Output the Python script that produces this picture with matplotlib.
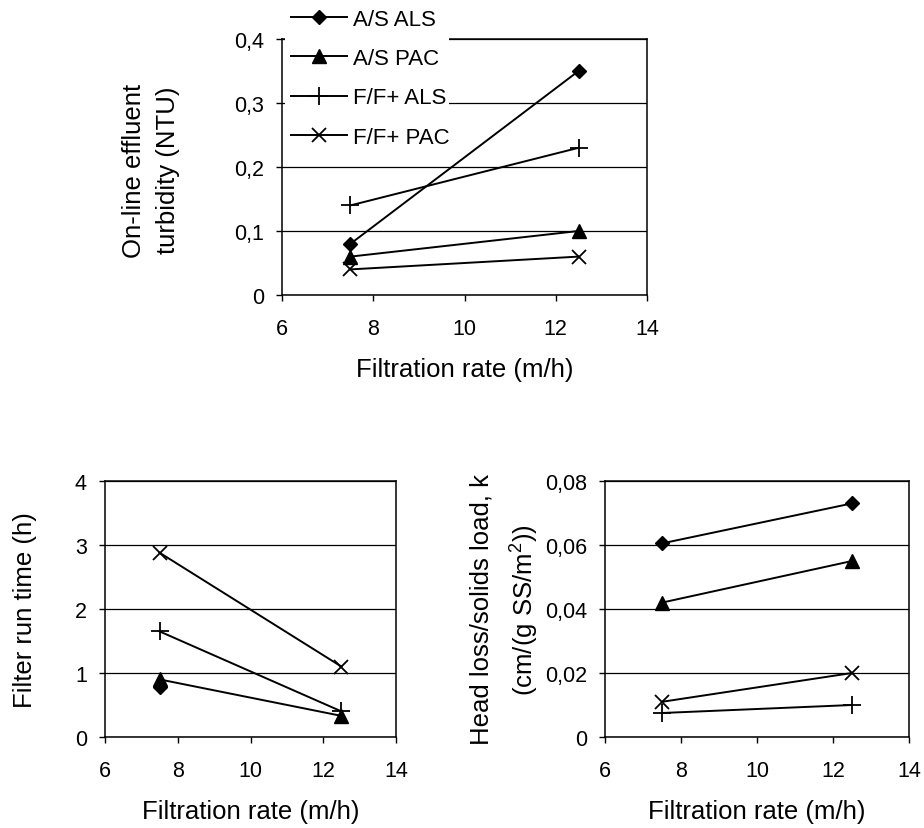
import matplotlib
matplotlib.use("Agg")
import matplotlib.pyplot as plt
from matplotlib.patches import Rectangle
from matplotlib.ticker import FuncFormatter
import numpy as np

plt.rcParams['font.family'] = ['Liberation Sans', 'DejaVu Sans']
plt.rcParams['mathtext.fontset'] = 'custom'
plt.rcParams['mathtext.rm'] = 'Liberation Sans'

rates = [7.5, 12.5]
series = ["A/S ALS", "A/S PAC", "F/F+ ALS", "F/F+ PAC"]

turbidity = {
    "A/S ALS": [0.08, 0.35],
    "A/S PAC": [0.06, 0.10],
    "F/F+ ALS": [0.14, 0.23],
    "F/F+ PAC": [0.04, 0.06],
}
run_time = {
    "A/S ALS": [0.78, np.nan],
    "A/S PAC": [0.90, 0.33],
    "F/F+ ALS": [1.65, 0.40],
    "F/F+ PAC": [2.88, 1.10],
}
head_loss = {
    "A/S ALS": [0.0605, 0.073],
    "A/S PAC": [0.042, 0.055],
    "F/F+ ALS": [0.0075, 0.010],
    "F/F+ PAC": [0.011, 0.020],
}

styles = {
    "A/S ALS": dict(marker="D", ms=7.5),
    "A/S PAC": dict(marker="^", ms=9.5),
    "F/F+ ALS": dict(marker="+", ms=13, mew=1.3),
    "F/F+ PAC": dict(marker="x", ms=10, mew=1.3),
}

W, H = 924, 829
fig = plt.figure(figsize=(W / 100, H / 100), dpi=100)


def add_ax(x0, y0, x1, y1):
    return fig.add_axes([x0 / W, 1 - y1 / H, (x1 - x0) / W, (y1 - y0) / H])


def comma(fmt):
    return FuncFormatter(lambda v, p: ("0" if abs(v) < 1e-12 else fmt.format(v).replace(".", ",")))


def style_ax(ax, data, ymax, ystep, yfmt, ylabel, label_x, label_y=0.5):
    handles = []
    for s in series:
        h, = ax.plot(rates, data[s], color="black", lw=1.4, mfc="black", mec="black",
                     label=s, **styles[s], zorder=3)
        handles.append(h)
    ax.set_xlim(6, 14)
    ax.set_ylim(0, ymax)
    ax.set_xticks([6, 8, 10, 12, 14])
    n = int(round(ymax / ystep))
    ax.set_yticks([i * ystep for i in range(n + 1)])
    ax.yaxis.set_major_formatter(comma(yfmt))
    ax.grid(axis="y", color="black", lw=0.9)
    ax.set_axisbelow(True)
    for sp in ax.spines.values():
        sp.set_color("black")
        sp.set_linewidth(1.1)
    ax.tick_params(direction="out", length=4.5, width=1, labelsize=15.5, color="black")
    ax.tick_params(axis="x", pad=12)
    ax.tick_params(axis="y", pad=8.5)
    ax.set_xlabel("Filtration rate (m/h)", fontsize=18.5, labelpad=13)
    ax.set_ylabel(ylabel, fontsize=18.5, linespacing=1.55)
    ax.yaxis.set_label_coords(label_x, label_y)
    return handles


ax1 = add_ax(282, 40, 647, 296)
handles = style_ax(ax1, turbidity, 0.4, 0.1, "{:.1f}",
                   "On-line effluent\nturbidity (NTU)", -0.279, 0.49)

# white backing behind the legend, covering the plot frame
fig.add_artist(Rectangle((285 / W, 1 - 145 / H), (449 - 285) / W, 145 / H,
                         transform=fig.transFigure, facecolor="white",
                         edgecolor="none", zorder=4))
leg = fig.legend(handles, series, loc="upper left",
                 bbox_to_anchor=(291 / W, 1 - 10 / H), frameon=False, fontsize=16,
                 handlelength=2.5, handletextpad=0.27, labelspacing=0.82,
                 borderpad=0, borderaxespad=0)
leg.set_zorder(5)

ax2 = add_ax(105, 482, 396, 738)
style_ax(ax2, run_time, 4, 1, "{:.0f}", "Filter run time (h)", -0.235)

ax3 = add_ax(605, 482, 909, 738)
style_ax(ax3, head_loss, 0.08, 0.02, "{:.2f}",
         "Head loss/solids load, k\n(cm/(g SS/m$^2$))", -0.214)

fig.savefig("out.png", dpi=100)
